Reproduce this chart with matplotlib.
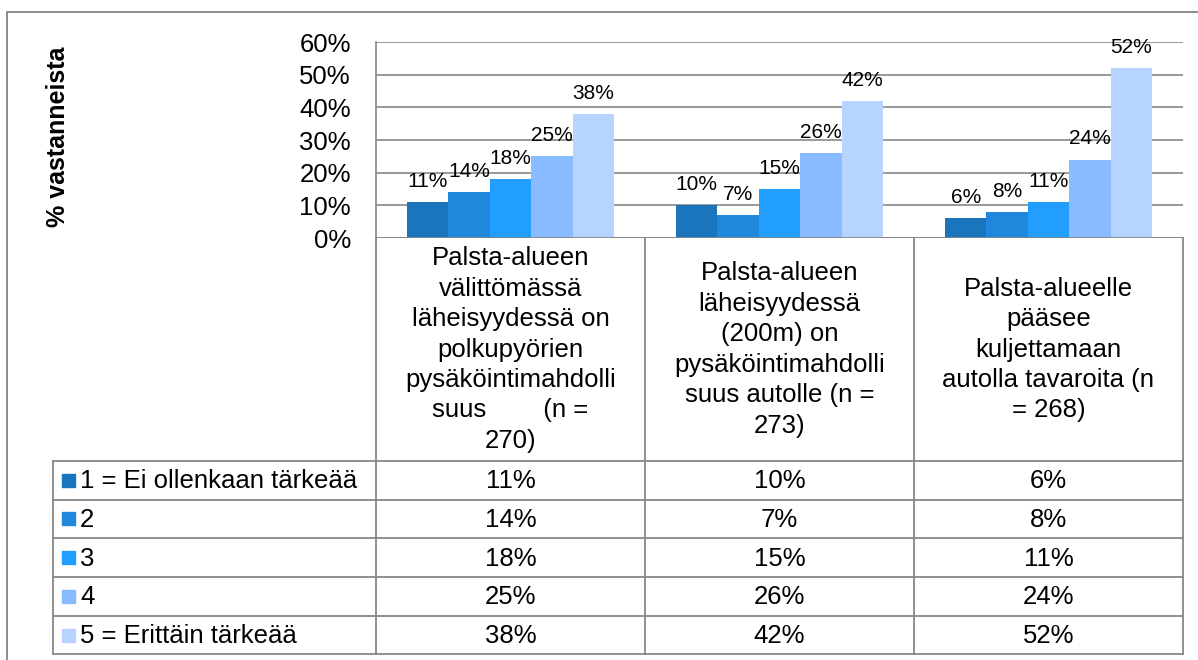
import matplotlib
matplotlib.use("Agg")
import matplotlib.pyplot as plt
import numpy as np

# ---- data ----
categories = [
    "Palsta-alueen\nvälittömässä\nläheisyydessä on\npolkupyörien\npysäköintimahdolli\nsuus        (n =\n270)",
    "Palsta-alueen\nläheisyydessä\n(200m) on\npysäköintimahdolli\nsuus autolle (n =\n273)",
    "Palsta-alueelle\npääsee\nkuljettamaan\nautolla tavaroita (n\n= 268)",
]
series_names = ["1 = Ei ollenkaan tärkeää", "2", "3", "4", "5 = Erittäin tärkeää"]
values = [
    [11, 10, 6],
    [14, 7, 8],
    [18, 15, 11],
    [25, 26, 24],
    [38, 42, 52],
]
yticks = [0, 10, 20, 30, 40, 50, 60]
ytick_labels = ["0%", "10%", "20%", "30%", "40%", "50%", "60%"]
y_label = "% vastanneista"

colors = ["#1A75BC", "#2088DC", "#229EFF", "#88BBFF", "#B7D3FF"]
grid_col = "#878787"
FONT = "Liberation Sans"
FS = 18.5
FS_LBL = 15

W, H = 1198, 660
fig = plt.figure(figsize=(W / 100, H / 100), dpi=100)

# layout in pixels
PL, PR, PT, PB = 376, 1183, 42, 238
row_lines = [461, 499.5, 538, 577, 616, 654]
LEG_L = 53


def fx(x):
    return x / W


def fy(y):
    return 1 - y / H


# overlay for frame and table (pixel coordinates)
ov = fig.add_axes([0, 0, 1, 1])
ov.set_xlim(0, W)
ov.set_ylim(H, 0)
ov.axis("off")

# ---- bar chart ----
ax = fig.add_axes([fx(PL), fy(PB), fx(PR) - fx(PL), fy(PT) - fy(PB)])
n_cat = len(categories)
n_ser = len(series_names)
bw = 1 / (n_ser + 1.5)
x = np.arange(n_cat)
for i, (name, vals) in enumerate(zip(series_names, values)):
    xs = x + (i - (n_ser - 1) / 2) * bw
    ax.bar(xs, vals, width=bw, color=colors[i], zorder=3, linewidth=0)
    for xx, v in zip(xs, vals):
        ax.annotate(f"{v}%", (xx, v), xytext=(0, 8), textcoords="offset points",
                    ha="center", va="bottom", fontsize=FS_LBL, family=FONT, zorder=4)

ax.set_xlim(-0.5, n_cat - 0.5)
ax.set_ylim(0, 60)
ax.set_yticks(yticks)
ax.set_yticklabels(ytick_labels, fontsize=FS, family=FONT)
ax.tick_params(axis="y", length=0, pad=18)
ax.set_xticks([])
for s in ["top", "right", "bottom"]:
    ax.spines[s].set_visible(False)
ax.spines["left"].set_color(grid_col)
ax.spines["left"].set_linewidth(1.2)
ax.yaxis.grid(True, color=grid_col, linewidth=1.2, zorder=0)
ax.set_axisbelow(True)
ax.patch.set_alpha(0)

fig.text(fx(58), fy(137), y_label, rotation=90, ha="center", va="center",
         fontsize=18, fontweight="bold", family=FONT)

# ---- outer frame ----
ov.plot([7, 7, W + 5], [H + 5, 12, 12], color="#8C8C8C", lw=1.4, solid_joinstyle="miter")

# ---- data table ----
col_edges = np.linspace(PL, PR, n_cat + 1)
lw = 1.3
# vertical lines of value columns
for xe in col_edges:
    ov.plot([xe, xe], [PB, row_lines[-1]], color=grid_col, lw=lw)
# bottom axis line
ax.axhline(0, color=grid_col, lw=lw, zorder=5)
# horizontal row lines
for yr in row_lines:
    ov.plot([LEG_L, PR], [yr, yr], color=grid_col, lw=lw)
ov.plot([LEG_L, LEG_L], [row_lines[0], row_lines[-1]], color=grid_col, lw=lw)

# category header texts
for c in range(n_cat):
    cx = (col_edges[c] + col_edges[c + 1]) / 2
    ov.text(cx, (PB + row_lines[0]) / 2, categories[c], ha="center", va="center",
            fontsize=FS, family=FONT, linespacing=1.34, multialignment="center")

# rows: legend key + values
for i in range(n_ser):
    y0, y1 = row_lines[i], row_lines[i + 1]
    yc = (y0 + y1) / 2
    ov.add_patch(plt.Rectangle((62, yc - 6.5), 13, 13, color=colors[i]))
    ov.text(80, yc + 1, series_names[i], ha="left", va="center", fontsize=FS, family=FONT)
    for c in range(n_cat):
        cx = (col_edges[c] + col_edges[c + 1]) / 2
        ov.text(cx, yc + 1, f"{values[i][c]}%", ha="center", va="center",
                fontsize=FS, family=FONT)

fig.savefig("out.png", dpi=100)
